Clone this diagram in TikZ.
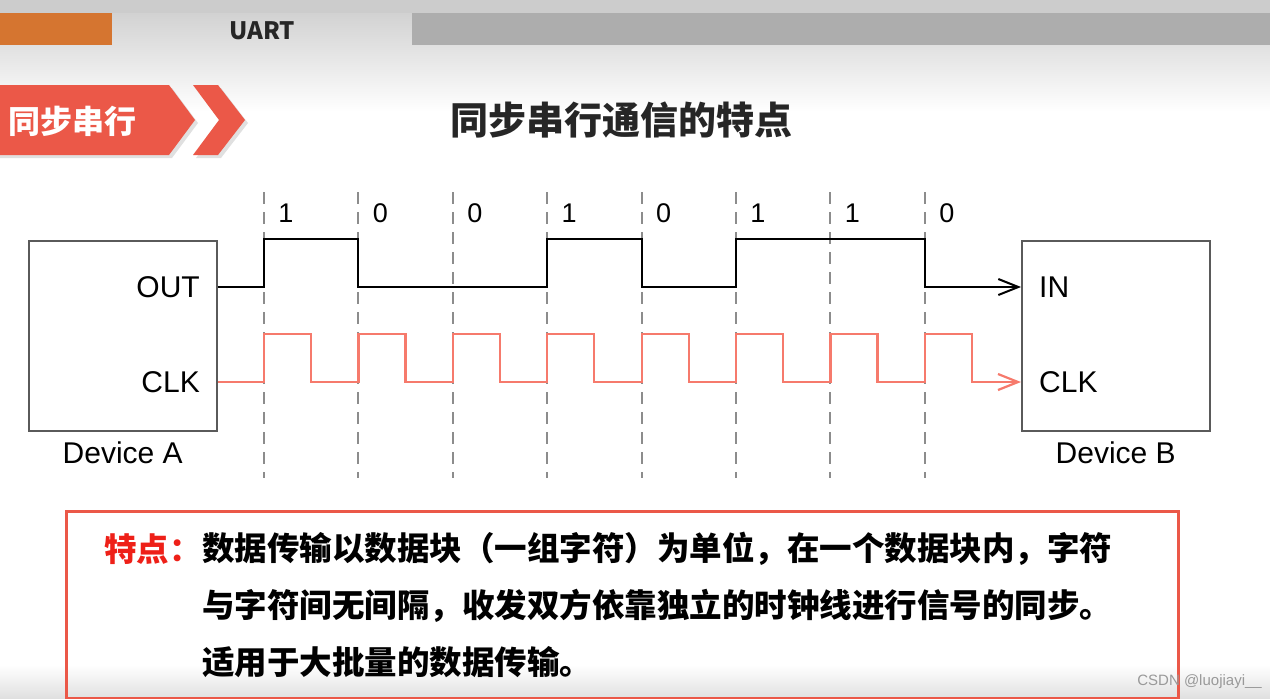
\documentclass[tikz,border=0pt]{standalone}
\usepackage{fontspec}
\setmainfont{Liberation Sans}
\newfontfamily\cjk{Noto Sans CJK SC}
\usetikzlibrary{positioning,arrows.meta}
\definecolor{barorange}{RGB}{213,117,48}
\definecolor{bargray}{RGB}{173,173,173}
\definecolor{tagred}{RGB}{235,88,72}
\definecolor{keyred}{RGB}{238,32,24}
\definecolor{clkred}{RGB}{246,122,108}
\definecolor{dashgray}{RGB}{140,140,140}
\definecolor{boxgray}{RGB}{90,90,90}

\begin{document}
\begin{tikzpicture}[x=1pt,y=-1pt,
  dev/.style={draw=boxgray,line width=1.5pt,minimum width=188pt,minimum height=190pt,inner sep=0pt,anchor=north west},
  lbl/.style={font=\fontsize{30}{30}\selectfont,inner sep=0pt},
  bit/.style={font=\fontsize{27}{27}\selectfont,inner sep=0pt},
  grid/.style={dashgray,line width=2pt,dash pattern=on 12pt off 8pt},
  dsig/.style={black,line width=2pt,-{Straight Barb[length=20pt,width=16pt]}},
  csig/.style={clkred,line width=2.2pt,-{Straight Barb[length=20pt,width=16pt]}},
  zh/.style={font=\cjk\bfseries\fontsize{32.5}{32.5}\selectfont,inner sep=0pt,anchor=west}]
  \useasboundingbox (0,0) rectangle (1270,699);

  % header
  \fill[top color=gray!40,bottom color=white] (0,0) rectangle (1270,112);
  \fill[gray!40] (0,0) rectangle (1270,13);
  \fill[barorange] (0,13) rectangle (112,45);
  \fill[bargray] (412,13) rectangle (1270,45);
  \node[font=\cjk\bfseries\fontsize{24}{24}\selectfont,text=black!85] (uart) at (262,31) {UART};

  % tag
  \fill[gray!60,opacity=.4] (0,88) -- (172,88) -- (198,123) -- (172,158) -- (0,158) -- cycle;
  \fill[gray!60,opacity=.4] (196,88) -- (221,88) -- (248,123) -- (221,158) -- (196,158) -- (222,123) -- cycle;
  \fill[tagred] (0,85) -- (169,85) -- (195,120) -- (169,155) -- (0,155) -- cycle;
  \fill[tagred] (193,85) -- (218,85) -- (245,120) -- (218,155) -- (193,155) -- (219,120) -- cycle;
  \node[font=\cjk\bfseries\fontsize{32}{32}\selectfont,text=white] (tag) at (73,121) {同步串行};
  \node[font=\cjk\bfseries\fontsize{38}{38}\selectfont,text=black!85] (title) at (621,120) {同步串行通信的特点};

  % devices
  \node[dev] (devA) at (28,240) {};
  \node[dev] (devB) at (1021,240) {};
  \node[lbl,anchor=east] (outA) at (200,287) {OUT};
  \node[lbl,anchor=east] (clkA) at (200,382) {CLK};
  \node[lbl,anchor=west] (inB) at (1039,287) {IN};
  \node[lbl,anchor=west] (clkB) at (1039,382) {CLK};
  \node[lbl,below=10pt of devA] (nameA) {Device A};
  \node[lbl,below=10pt of devB] (nameB) {Device B};

  % bit slots
  \foreach \i in {0,...,7}
    \draw[grid] ({264+94.4*\i},192) -- ({264+94.4*\i},478);
  \foreach \b [count=\i from 0] in {1,0,0,1,0,1,1,0}
    \node[bit] (b\i) at ({286+94.4*\i},213) {\b};

  % signals
  \draw[dsig] (devA.east |- outA) -- (264,287) -- (264,239) -- (358.4,239) -- (358.4,287)
    -- (547.2,287) -- (547.2,239) -- (641.6,239) -- (641.6,287) -- (736,287) -- (736,239)
    -- (924.8,239) -- (924.8,287) -- (devB.west |- inB);
  \draw[csig] (devA.east |- clkA) foreach \k in {0,...,7} {
    -- ({264+94.4*\k},382) -- ++(0,-48) -- ++(47,0) -- ++(0,48) } -- (devB.west |- clkB);

  % features
  \fill[top color=white,bottom color=gray!25] (0,665) rectangle (1270,699);
  \node[draw=tagred,line width=3pt,minimum width=1112pt,minimum height=187pt,inner sep=0pt,anchor=north west] (feat) at (65,510) {};
  \node[zh,text=keyred] (key) at (104,549) {特点：};
  \node[zh] (l1) at (202,549) {数据传输以数据块（一组字符）为单位，在一个数据块内，字符};
  \node[zh] (l2) at (202,606) {与字符间无间隔，收发双方依靠独立的时钟线进行信号的同步。};
  \node[zh] (l3) at (202,662) {适用于大批量的数据传输。};
  \node[font=\fontsize{15}{15}\selectfont,text=gray!80,anchor=east,inner sep=0pt] (csdn) at (1262,682) {CSDN @luojiayi\_\_};
\end{tikzpicture}
\end{document}
